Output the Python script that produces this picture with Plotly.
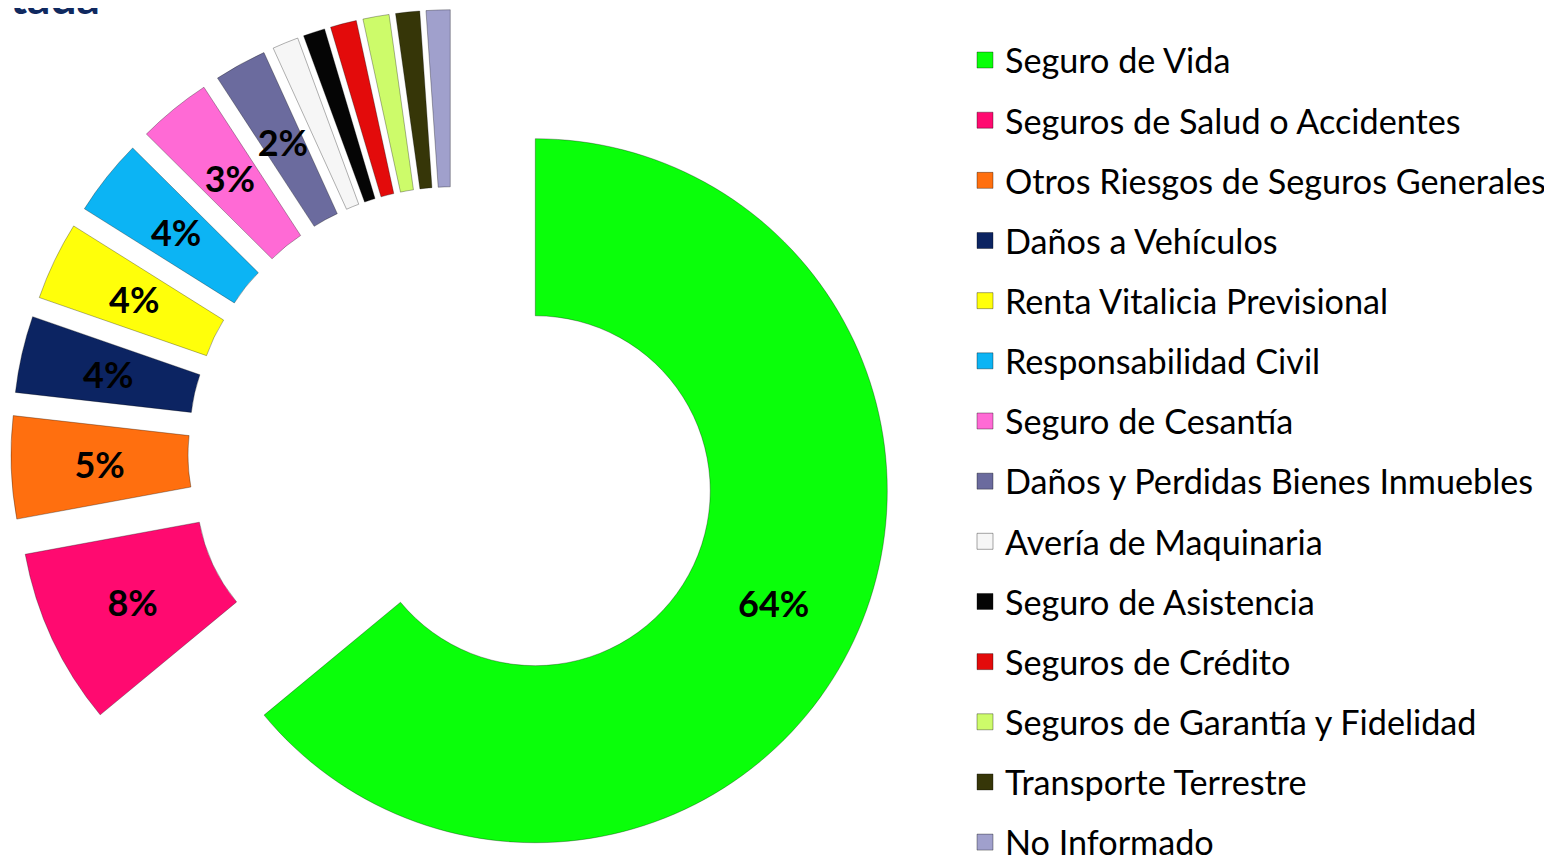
import plotly.graph_objects as go

categories = [
    "Seguro de Vida",
    "Seguros de Salud o Accidentes",
    "Otros Riesgos de Seguros Generales",
    "Daños a Vehículos",
    "Renta Vitalicia Previsional",
    "Responsabilidad Civil",
    "Seguro de Cesantía",
    "Daños y Perdidas Bienes Inmuebles",
    "Avería de Maquinaria",
    "Seguro de Asistencia",
    "Seguros de Crédito",
    "Seguros de Garantía y Fidelidad",
    "Transporte Terrestre",
    "No Informado",
]
shares = [64.0, 8.1, 4.7, 3.52, 3.6, 3.52, 3.36, 2.4, 1.2, 1.0, 1.2, 1.2, 1.1, 1.1]

colors = ["#0aff0a", "#ff0a70", "#ff6f0f", "#0c2462", "#ffff0a", "#0cb4f4",
          "#ff6ad5", "#6b6b9e", "#f6f6f6", "#050505", "#e30b0b", "#cdfb6a",
          "#363608", "#a0a0cc"]

# which ring carries each slice's percentage label (None = no label shown)
label_ring = [0, 1, 2, 1, 1, 1, 1, 1, None, None, None, None, None, None]

W, H = 1552, 900
cx, cy = 445.4, 444.2          # pie centre inside the figure (px from left / top)
half = 442.5                   # half size of the pulled-pie box
pull = 0.2571
rings = {1: (378.6, 0.87),     # transparent label rings: (half size, hole)
         2: (406.0, 0.70)}


def dom(h):
    return dict(x=[(cx - h) / W, (cx + h) / W],
                y=[1 - (cy + h) / H, 1 - (cy - h) / H])


label_font = dict(family="Lato", size=36, color="black", weight="bold")

fig = go.Figure()

# coloured, exploded donut
fig.add_trace(go.Pie(
    labels=categories,
    values=shares,
    sort=False,
    direction="clockwise",
    rotation=0,
    hole=0.497,
    pull=pull,
    marker=dict(colors=colors, line=dict(color="rgba(0,0,0,0.30)", width=1)),
    texttemplate=["%{percent:.0%}" if r == 0 else "" for r in label_ring],
    textposition="inside",
    insidetextorientation="horizontal",
    textfont=label_font,
    domain=dom(half),
    showlegend=False,
    hoverinfo="label+percent",
))

# transparent rings that only carry the percentage labels of the exploded slices
for key, (h_ring, hole_ring) in rings.items():
    fig.add_trace(go.Pie(
        labels=categories,
        values=shares,
        sort=False,
        direction="clockwise",
        rotation=0,
        hole=hole_ring,
        marker=dict(colors=["rgba(0,0,0,0)"] * len(shares), line=dict(width=0)),
        texttemplate=["%{percent:.0%}" if r == key else "" for r in label_ring],
        textposition="inside",
        insidetextorientation="horizontal",
        textfont=label_font,
        domain=dom(h_ring),
        showlegend=False,
        hoverinfo="skip",
    ))

for name, col in zip(categories, colors):
    fig.add_trace(go.Scatter(
        x=[None], y=[None], mode="markers", name=name, legendgroup=name,
        marker=dict(symbol="square", size=16, color=col,
                    line=dict(color="rgba(0,0,0,0.35)", width=1)),
        showlegend=True, hoverinfo="skip",
    ))

fig.add_annotation(
    text="<b>tada</b>", xref="paper", yref="paper",
    x=94 / W, y=1 - 18 / H, xanchor="right", yanchor="bottom",
    showarrow=False, font=dict(family="Lato", size=46, color="#10295f"),
)

fig.update_layout(
    width=W, height=H,
    margin=dict(l=0, r=0, t=0, b=0, autoexpand=False),
    paper_bgcolor="white", plot_bgcolor="white",
    xaxis=dict(visible=False), yaxis=dict(visible=False),
    uniformtext=dict(minsize=36, mode="show"),
    legend=dict(
        x=957 / W, xanchor="left", y=1 - 23.3 / H, yanchor="top",
        traceorder="grouped", tracegroupgap=12.7,
        font=dict(family="Lato", size=34.2, color="black"),
        itemwidth=30, bgcolor="rgba(0,0,0,0)",
    ),
)

fig.write_html("out.html")
